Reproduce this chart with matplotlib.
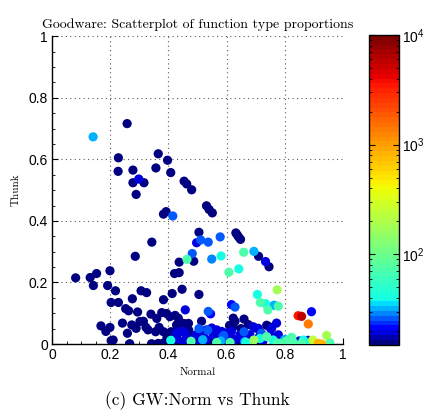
import numpy as np
import matplotlib
matplotlib.use("Agg")
import matplotlib.pyplot as plt
from matplotlib.colors import LogNorm, ListedColormap

# upper points (thunk > 0.25)
normal_hi = [0.141, 0.258, 0.228, 0.227, 0.278, 0.278, 0.298, 0.316, 0.289, 0.365,
             0.357, 0.397, 0.408, 0.454, 0.463, 0.480, 0.392, 0.383, 0.415, 0.531,
             0.540, 0.551, 0.343, 0.505, 0.497, 0.511, 0.537, 0.578, 0.632, 0.637,
             0.642, 0.648, 0.659, 0.694, 0.710, 0.734, 0.746, 0.286, 0.482, 0.464,
             0.549, 0.581, 0.437, 0.487]
thunk_hi = [0.673, 0.716, 0.605, 0.561, 0.565, 0.524, 0.536, 0.524, 0.486, 0.618,
            0.572, 0.597, 0.557, 0.529, 0.520, 0.501, 0.430, 0.422, 0.416, 0.449,
            0.437, 0.426, 0.331, 0.363, 0.329, 0.338, 0.331, 0.348, 0.361, 0.354,
            0.347, 0.340, 0.298, 0.301, 0.285, 0.268, 0.251, 0.285, 0.294, 0.275,
            0.276, 0.286, 0.266, 0.269]
count_hi = [32, 16, 16, 16, 16, 16, 20, 16, 16, 16,
            16, 16, 16, 16, 16, 16, 16, 16, 25, 16,
            16, 16, 16, 16, 20, 27, 27, 27, 16, 16,
            16, 16, 75, 32, 16, 20, 16, 16, 27, 70,
            30, 40, 16, 16]

# middle points (0.1 < thunk < 0.25)
normal_mid = [0.081, 0.131, 0.153, 0.142, 0.199, 0.191, 0.218, 0.203, 0.228, 0.253,
              0.263, 0.276, 0.306, 0.325, 0.294, 0.383, 0.413, 0.447, 0.505, 0.421,
              0.437, 0.608, 0.642, 0.706, 0.716, 0.734, 0.742, 0.763, 0.778, 0.774,
              0.617, 0.629, 0.458, 0.537, 0.545, 0.892, 0.846, 0.858, 0.881, 0.340,
              0.377, 0.394]
thunk_mid = [0.215, 0.216, 0.229, 0.190, 0.238, 0.190, 0.173, 0.135, 0.135, 0.115,
             0.108, 0.147, 0.173, 0.167, 0.104, 0.144, 0.164, 0.178, 0.161, 0.229,
             0.232, 0.233, 0.244, 0.161, 0.135, 0.131, 0.111, 0.126, 0.123, 0.176,
             0.128, 0.120, 0.111, 0.106, 0.098, 0.105, 0.092, 0.090, 0.065, 0.097,
             0.102, 0.099]
count_mid = [16, 16, 16, 16, 16, 16, 16, 16, 16, 16,
             16, 16, 16, 16, 16, 16, 16, 16, 16, 16,
             16, 70, 40, 40, 75, 38, 75, 32, 70, 180,
             22, 27, 20, 27, 22, 22, 3500, 6000, 1400, 16,
             16, 16]

# lower cluster (thunk < 0.1)
normal_lo = [0.168, 0.185, 0.199, 0.203, 0.210, 0.242, 0.259, 0.267, 0.274, 0.289,
             0.302, 0.314, 0.323, 0.330, 0.360, 0.356, 0.368, 0.383, 0.342, 0.365,
             0.383, 0.405, 0.423, 0.434, 0.457, 0.428, 0.451, 0.469, 0.514, 0.623,
             0.629, 0.623, 0.660, 0.675, 0.715, 0.738, 0.747, 0.409, 0.420, 0.437,
             0.460, 0.500, 0.540, 0.590, 0.640, 0.700, 0.560, 0.480, 0.520, 0.395,
             0.470, 0.610, 0.650,
             0.428, 0.446, 0.457, 0.514, 0.531, 0.549, 0.566, 0.583, 0.600, 0.617,
             0.646, 0.698, 0.692, 0.709, 0.755, 0.772, 0.778, 0.430, 0.470, 0.495,
             0.530, 0.555, 0.575, 0.600, 0.625, 0.655, 0.680, 0.710, 0.725, 0.750,
             0.765, 0.850, 0.880, 0.620, 0.510, 0.450,
             0.535, 0.590, 0.660, 0.720, 0.505,
             0.518, 0.663, 0.887, 0.800, 0.580,
             0.408, 0.667, 0.715, 0.760, 0.864, 0.870,
             0.478, 0.566, 0.612, 0.738, 0.784, 0.806, 0.824, 0.830, 0.858, 0.955,
             0.775,
             0.694, 0.944, 0.896, 0.915, 0.927]
thunk_lo = [0.059, 0.041, 0.054, 0.011, 0.013, 0.068, 0.035, 0.001, 0.062, 0.051,
            0.073, 0.074, 0.054, 0.046, 0.083, 0.040, 0.054, 0.040, 0.001, 0.002,
            0.003, 0.089, 0.093, 0.084, 0.065, 0.062, 0.067, 0.067, 0.074, 0.084,
            0.074, 0.056, 0.081, 0.063, 0.041, 0.061, 0.056, 0.040, 0.005, 0.010,
            0.002, 0.010, 0.004, 0.008, 0.003, 0.006, 0.020, 0.025, 0.022, 0.020,
            0.045, 0.060, 0.050,
            0.036, 0.041, 0.035, 0.036, 0.046, 0.052, 0.046, 0.041, 0.036, 0.041,
            0.030, 0.052, 0.056, 0.051, 0.051, 0.068, 0.030, 0.018, 0.015, 0.030,
            0.015, 0.030, 0.012, 0.020, 0.015, 0.015, 0.030, 0.020, 0.010, 0.030,
            0.005, 0.010, 0.012, 0.002, 0.003, 0.008,
            0.045, 0.028, 0.040, 0.035, 0.050,
            0.014, 0.008, 0.004, 0.015, 0.010,
            0.012, 0.005, 0.018, 0.013, 0.013, 0.003,
            0.009, 0.005, 0.005, 0.024, 0.002, 0.010, 0.022, 0.005, 0.002, 0.004,
            0.003,
            0.013, 0.028, 0.013, 0.002, 0.000]
count_lo = [16] * 53 + [20] * 36 + [27] * 5 + [32] * 5 + [40] * 6 + [70] * 11 + [160, 180, 250, 800, 850]

normal = np.array(normal_hi + normal_mid + normal_lo)
thunk = np.array(thunk_hi + thunk_mid + thunk_lo)
count = np.array(count_hi + count_mid + count_lo, dtype=float)

ticks = [0, 0.2, 0.4, 0.6, 0.8, 1]
tick_labels = ["0", "0.2", "0.4", "0.6", "0.8", "1"]

# jet with the blue part squeezed into the bottom of the bar
jet = plt.get_cmap("jet")
cmap = ListedColormap(jet(np.concatenate([np.linspace(0, 0.34, 9), np.linspace(0.375, 1, 55)])))

fig = plt.figure(figsize=(4.27, 4.16), dpi=100)
ax = fig.add_axes([0.122, 0.173, 0.681, 0.740])
cax = fig.add_axes([0.864, 0.171, 0.070, 0.745])

order = np.argsort(count, kind="stable")
sc = ax.scatter(normal[order], thunk[order], c=count[order], s=44, cmap=cmap,
                norm=LogNorm(vmin=15, vmax=1e4), linewidths=0, zorder=3)

ax.set_xlim(0, 1)
ax.set_ylim(0, 1)
ax.set_xticks(ticks)
ax.set_xticklabels(tick_labels)
ax.set_yticks(ticks)
ax.set_yticklabels(tick_labels)
ax.set_xticks(np.arange(0, 1.01, 0.05), minor=True)
ax.set_yticks(np.arange(0, 1.01, 0.05), minor=True)
ax.tick_params(which="both", direction="in", labelsize=10, pad=3)
ax.tick_params(which="major", length=4)
ax.tick_params(which="minor", length=2)
for lab in ax.get_xticklabels() + ax.get_yticklabels():
    lab.set_family("Liberation Sans")
ax.grid(True, which="major", linestyle=(0, (1, 3)), color="0.35", linewidth=0.8)
ax.spines["top"].set_visible(False)
ax.spines["right"].set_visible(False)
ax.spines["left"].set_linewidth(1.0)
ax.spines["bottom"].set_linewidth(1.0)

ax.set_title("Goodware: Scatterplot of function type proportions", family="cmr10",
             fontsize=10, pad=6)
ax.set_xlabel("Normal", family="cmr10", fontsize=8, labelpad=4)
ax.set_ylabel("Thunk", family="cmr10", fontsize=8, labelpad=6)

cb = fig.colorbar(sc, cax=cax)
cb.outline.set_linewidth(1.0)
cb.ax.minorticks_on()
cb.ax.tick_params(which="both", direction="in", left=True, right=True, labelsize=10, pad=2)
cb.ax.tick_params(which="major", length=4)
cb.ax.tick_params(which="minor", length=2)
for lab in cb.ax.get_yticklabels():
    lab.set_family("Liberation Sans")

fig.text(0.463, 0.038, "(c) GW:Norm vs Thunk", family="cmr10", fontsize=12.5,
         ha="center", va="center")

fig.savefig("out.png", dpi=100)
